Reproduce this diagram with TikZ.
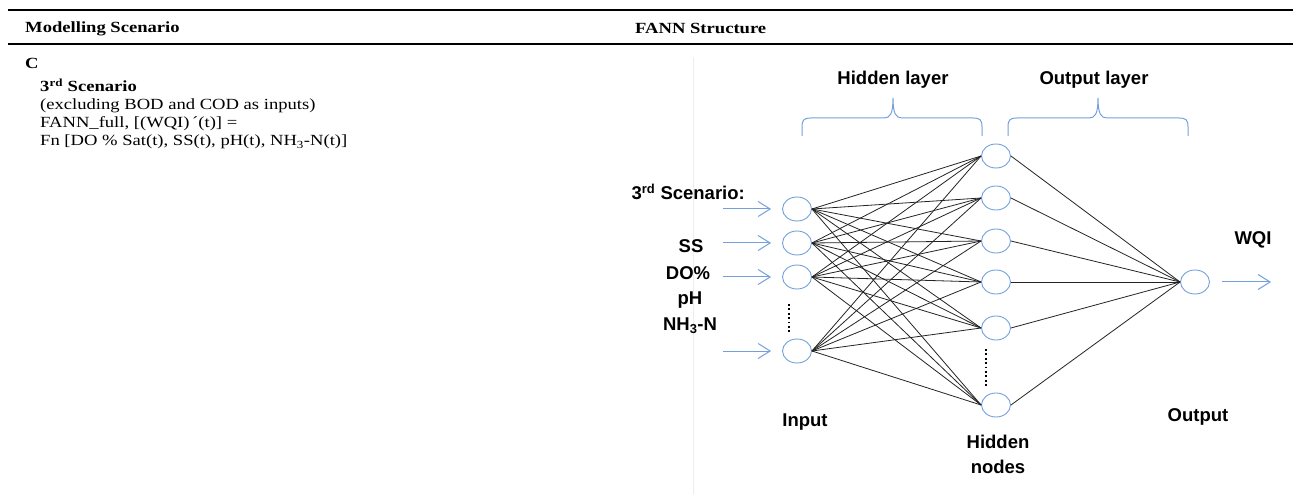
\documentclass[tikz,border=0pt]{standalone}
\usepackage{fontspec}
\newfontfamily\tabfont{Liberation Serif}[FakeStretch=1.2]
\newfontfamily\figfont{Liberation Sans}
\usetikzlibrary{shapes.geometric,arrows.meta}
\definecolor{brc}{RGB}{115,160,220}
\definecolor{lnc}{RGB}{35,35,35}
\begin{document}
\begin{tikzpicture}[x=1pt,y=-1pt,
  neuron/.style={draw=brc, line width=0.9pt, ellipse, minimum width=29pt, minimum height=24pt, inner sep=0pt},
  link/.style={draw=lnc, line width=0.8pt},
  inarrow/.style={draw=brc, line width=1pt, -{Straight Barb[length=12pt,width=15pt]}},
  bracepath/.style={draw=brc, line width=1pt},
  lab/.style={font=\figfont\bfseries\fontsize{18.5}{20}\selectfont, inner sep=0pt},
  tab/.style={font=\tabfont\fontsize{15.5}{18}\selectfont, anchor=base west, inner sep=0pt},
  tabb/.style={font=\tabfont\bfseries\fontsize{15.5}{18}\selectfont, anchor=base west, inner sep=0pt},
  tabrule/.style={line width=1.8pt},
  dotline/.style={line width=1.8pt, dash pattern=on 1.8pt off 2.6pt}]
\useasboundingbox (0,0) rectangle (1293,494);

% table rules
\draw[tabrule] (8,10) -- (1293,10);
\draw[tabrule] (8,44) -- (1293,44);
\draw[draw=black!7, line width=0.8pt] (693,57) -- (693,494);

% table text
\node[tabb] (hdrA) at (25,33) {Modelling Scenario};
\node[tabb] (hdrB) at (635,34) {FANN Structure};
\node[tabb] (cc) at (25,69) {C};
\node[tabb] (sc3) at (40,92) {3\textsuperscript{rd} Scenario};
\node[tab] (la) at (40,110) {(excluding BOD and COD as inputs)};
\node[tab] (lb) at (40,128) {FANN\_full, [(WQI)\,´(t)] =};
\node[tab] (lc) at (40,146) {Fn [DO \% Sat(t), SS(t), pH(t), NH\textsubscript{3}-N(t)]};

% neurons
\node[neuron] (i1) at (797,209) {};
\node[neuron] (i2) at (797,243) {};
\node[neuron] (i3) at (797,277) {};
\node[neuron] (i4) at (797,351) {};
\node[neuron] (h1) at (996,156) {};
\node[neuron] (h2) at (996,198) {};
\node[neuron] (h3) at (996,241) {};
\node[neuron] (h4) at (996,282) {};
\node[neuron] (h5) at (996,328) {};
\node[neuron] (h6) at (996,405) {};
\node[neuron] (o) at (1195,282) {};

% links
\foreach \i in {1,...,4}{\foreach \h in {1,...,6}{\draw[link] (i\i.east) -- (h\h.west);}}
\foreach \h in {1,...,6}{\draw[link] (h\h.east) -- (o.west);}

% arrows
\coordinate (a1) at (723,209);
\coordinate (a2) at (723,243);
\coordinate (a3) at (723,277);
\coordinate (a4) at (723,351);
\foreach \k in {1,...,4}{\draw[inarrow, shorten >=11pt] (a\k) -- (i\k.west);}
\coordinate (oe) at (1271,282);
\draw[inarrow, shorten <=12pt] (o.east) -- (oe);

% dots
\draw[dotline] (789,304) -- (789,334);
\draw[dotline] (986,349) -- (986,388);

% braces
\draw[bracepath] (802,136) -- (802,127) .. controls (802,120) and (804,118) .. (811,118)
  -- (884,118) .. controls (890,118) and (893,114) .. (893,98)
  .. controls (893,114) and (896,118) .. (902,118) -- (973,118)
  .. controls (980,118) and (982,120) .. (982,127) -- (982,136);
\draw[bracepath] (1008,136) -- (1008,127) .. controls (1008,120) and (1010,118) .. (1017,118)
  -- (1089,118) .. controls (1095,118) and (1098,114) .. (1098,98)
  .. controls (1098,114) and (1101,118) .. (1107,118) -- (1179,118)
  .. controls (1186,118) and (1188,120) .. (1188,127) -- (1188,136);

% figure labels
\node[lab] (hl) at (893,80) {Hidden layer};
\node[lab] (ol) at (1094,80) {Output layer};
\node[lab, anchor=east] (sc) at (745,192) {3\textsuperscript{rd} Scenario:};
\node[lab] (ss) at (691,246) {SS};
\node[lab] (dop) at (688,273) {DO\%};
\node[lab] (ph) at (690,300) {pH};
\node[lab] (nh) at (690,326) {NH\textsubscript{3}-N};
\node[lab] (inl) at (805,422) {Input};
\node[lab] (hn1) at (998,442) {Hidden};
\node[lab] (hn2) at (998,467) {nodes};
\node[lab] (outl) at (1198,417) {Output};
\node[lab] (wqi) at (1253,240) {WQI};
\end{tikzpicture}
\end{document}
